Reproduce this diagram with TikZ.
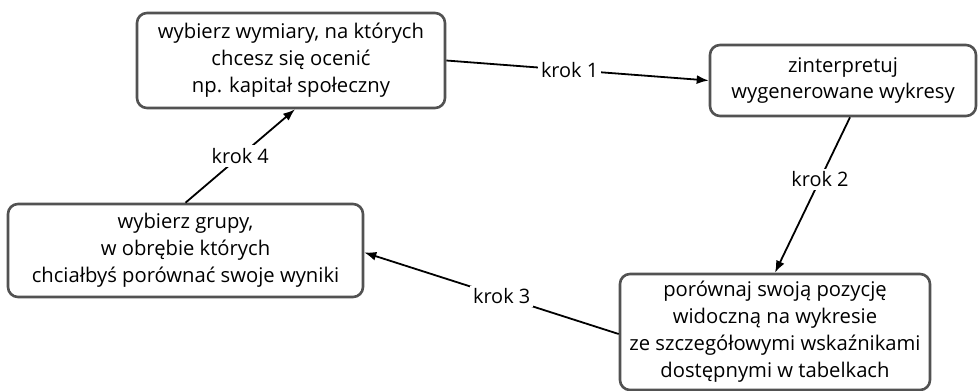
\documentclass[tikz,border=0pt]{standalone}
\usepackage{fontspec}
\setmainfont{Open Sans}
\usetikzlibrary{calc,arrows.meta}
\begin{document}
\begin{tikzpicture}[x=1bp,y=-1bp,
  stepbox/.style={draw=black!68, line width=2.6bp, rounded corners=10bp, fill=white,
    align=center, inner sep=0pt, font=\fontsize{20.3}{27}\selectfont},
  conn/.style={draw=black, line width=1.8bp, -{Latex[length=12bp,width=9bp]}},
  lbl/.style={fill=white, inner sep=3bp, font=\fontsize{20}{23}\selectfont}]
\useasboundingbox (0,0) rectangle (978,390);
\node[stepbox, minimum width=308bp, minimum height=95bp] (b1) at (291,60.5)
  {wybierz wymiary, na których\\chcesz się ocenić\\np. kapitał społeczny};
\node[stepbox, minimum width=266bp, minimum height=71bp] (b2) at (843,80.5)
  {zinterpretuj\\wygenerowane wykresy};
\node[stepbox, minimum width=310bp, minimum height=116bp] (b3) at (775,332)
  {porównaj swoją pozycję\\widoczną na wykresie\\ze szczegółowymi wskaźnikami\\dostępnymi w tabelkach};
\node[stepbox, minimum width=355bp, minimum height=93bp] (b4) at (185.5,250.5)
  {wybierz grupy,\\w obrębie których\\chciałbyś porównać swoje wyniki};
\draw[conn] (b1.east) -- node[lbl, pos=0.47] (l1) {krok 1} (b2.west);
\draw[conn] ($(b2.south)+(7,0)$) -- node[lbl, pos=0.4] (l2) {krok 2} (b3.north);
\draw[conn] ($(b3.west)+(0,2)$) -- node[lbl, pos=0.46] (l3) {krok 3} ($(b4.east)+(0,2)$);
\draw[conn] (b4.north) -- node[lbl, pos=0.5] (l4) {krok 4} ($(b1.south)+(4,0)$);
\end{tikzpicture}
\end{document}
